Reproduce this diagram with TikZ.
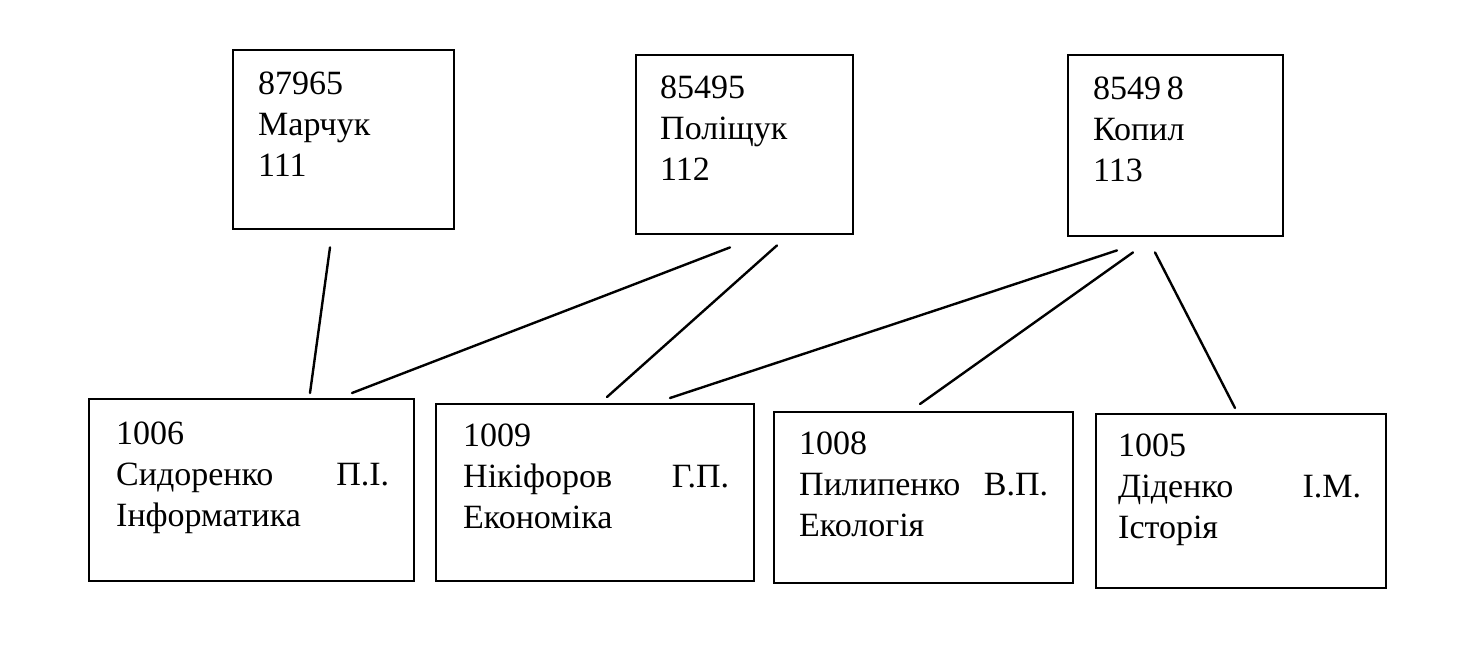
\documentclass[tikz,border=0pt]{standalone}
\usepackage{fontspec}
\setmainfont{Liberation Serif}
\newfontfamily\cardfont{Liberation Serif}
\usetikzlibrary{calc}
% #1 box width, #2 box height, #3 left padding, #4 text width, #5 top-to-first-baseline, #6 lines
\newcommand\cardtext[6]{\parbox[c][#2][t]{#1}{\vspace*{\dimexpr#5-\ht\strutbox\relax}\hspace*{#3}\parbox[t]{#4}{\strut #6}}}
\begin{document}
\begin{tikzpicture}[x=0.5pt,y=-0.5pt,
  card/.style={draw=black, line width=1.2pt, inner sep=0pt, anchor=north west,
    font=\cardfont\fontsize{17pt}{20.5pt}\selectfont},
  link/.style={draw=black, line width=1.2pt, line cap=round}]
\useasboundingbox (0,0) rectangle (1458,654);
% top boxes
\node[card] (A) at (232,49) {\cardtext{110.5pt}{89.5pt}{12.5pt}{90pt}{22pt}{87965\\Марчук\\111}};
\node[card] (B) at (635,54) {\cardtext{108.5pt}{89.5pt}{12pt}{90pt}{21.5pt}{85495\\Поліщук\\112}};
\node[card] (C) at (1067,54) {\cardtext{107.5pt}{90.5pt}{12.5pt}{90pt}{22pt}{8549\,8\\Копил\\113}};
% bottom boxes
\node[card] (D) at (88,398) {\cardtext{162.5pt}{91pt}{13.5pt}{136.5pt}{22.5pt}{1006\\Сидоренко\nobreak\hfill П.І.\\Інформатика}};
\node[card] (E) at (435,403) {\cardtext{159pt}{88.5pt}{13.5pt}{133pt}{21pt}{1009\\Нікіфоров\nobreak\hfill Г.П.\\Економіка}};
\node[card] (F) at (773,411) {\cardtext{149.5pt}{85.5pt}{12.5pt}{124.5pt}{21pt}{1008\\Пилипенко\nobreak\hfill В.П.\\Екологія}};
\node[card] (G) at (1095,413) {\cardtext{145pt}{87pt}{11pt}{121.5pt}{21pt}{1005\\Діденко\nobreak\hfill І.М.\\Історія}};
% connectors
\draw[link] ($(A.south west)+(98,17)$) -- ($(D.north west)+(222,-5)$);
\draw[link] ($(B.south west)+(95,12)$) -- ($(D.north west)+(264,-5)$);
\draw[link] ($(B.south west)+(142,10)$) -- ($(E.north west)+(172,-6)$);
\draw[link] ($(C.south west)+(50,13)$) -- ($(E.north west)+(235,-5)$);
\draw[link] ($(C.south west)+(66,15)$) -- ($(F.north west)+(147,-7)$);
\draw[link] ($(C.south west)+(88,15)$) -- ($(G.north west)+(140,-5)$);
\end{tikzpicture}
\end{document}
